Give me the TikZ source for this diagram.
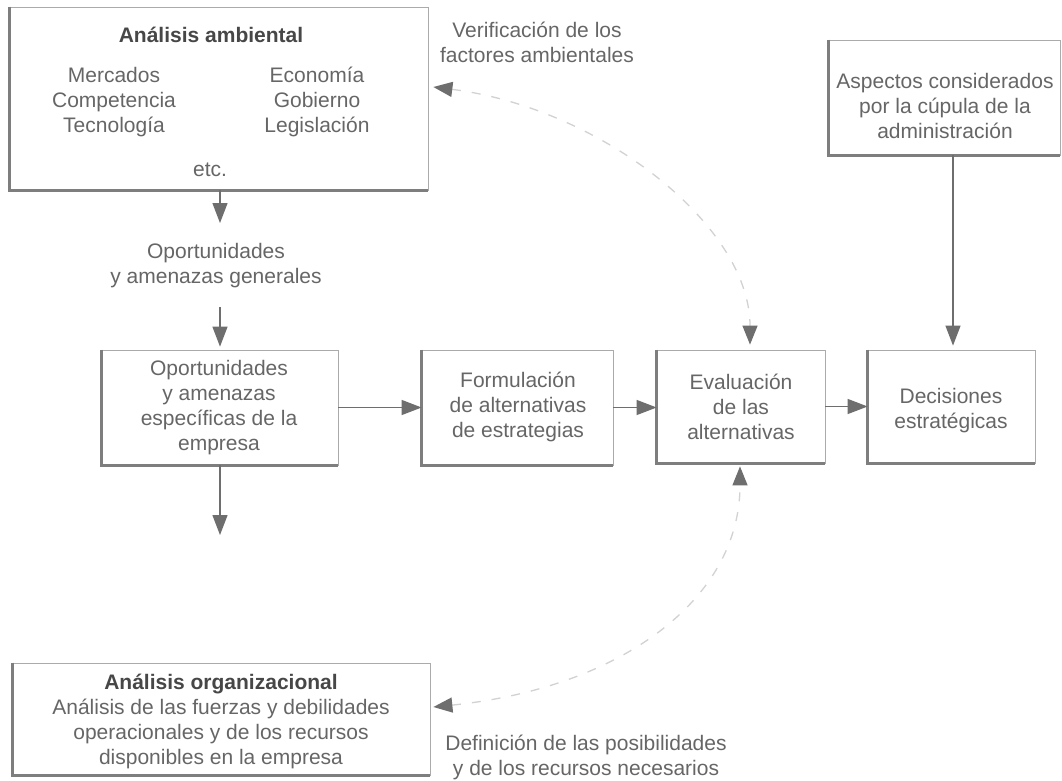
\documentclass[tikz,border=0pt]{standalone}
\usepackage{fontspec}
\setmainfont{Liberation Sans}
\usetikzlibrary{arrows.meta,calc}

\definecolor{inkgray}{HTML}{666666}
\definecolor{titlegray}{HTML}{474747}
\definecolor{framegray}{HTML}{ABABAB}
\definecolor{shadegray}{HTML}{7E7E7E}
\definecolor{flowgray}{HTML}{6E6E6E}
\definecolor{dashgray}{HTML}{D2D2D2}

\tikzset{
  txt/.style={font=\fontsize{21}{25}\selectfont, text=inkgray, align=center, inner sep=0pt},
  ttl/.style={txt, font=\fontsize{21}{25}\selectfont\bfseries, text=titlegray},
  panel/.style={draw=framegray, line width=0.8pt, fill=white, inner sep=0pt},
  shade/.style={draw=shadegray, line width=3.5pt},
  flow/.style={draw=flowgray, line width=1.3pt, -{Triangle[length=20pt,width=15pt]}},
  feedback/.style={draw=dashgray, line width=1.3pt, dash pattern=on 9pt off 11pt,
    {Triangle[length=19pt,width=15pt,color=flowgray]}-{Triangle[length=19pt,width=15pt,color=flowgray]}},
}

\begin{document}
\begin{tikzpicture}[x=1pt,y=-1pt]
\useasboundingbox[fill=white] (0,0) rectangle (1062,781);

% boxes
\node[panel, minimum width=418pt, minimum height=183pt] (amb)  at (219,98.5)   {};
\node[panel, minimum width=231pt, minimum height=115pt] (asp)  at (944.5,97.5) {};
\node[panel, minimum width=236pt, minimum height=115pt] (opo)  at (220,407.5)  {};
\node[panel, minimum width=191pt, minimum height=115pt] (form) at (517.5,407.5){};
\node[panel, minimum width=168pt, minimum height=113pt] (eva)  at (741,406.5)  {};
\node[panel, minimum width=167pt, minimum height=113pt] (dec)  at (951.5,406.5){};
\node[panel, minimum width=417pt, minimum height=112pt] (org)  at (221.5,719)  {};

% heavy left and bottom edges
\foreach \b in {amb,asp,opo,form,eva,dec,org}
  \draw[shade] (\b.north west) -- (\b.south west) -- (\b.south east);

% texts inside the boxes
\node[ttl] (ambttl) at (211,35) {Análisis ambiental};
\node[txt] (ambleft) at (114,102) {Mercados\\Competencia\\Tecnología};
\node[txt] (ambright) at (317,102) {Economía\\Gobierno\\Legislación};
\node[txt] (ambetc) at (210,170) {etc.};
\node[txt] (asptxt) at (945,106) {Aspectos considerados\\por la cúpula de la\\administración};
\node[txt] (opotxt) at (219,408) {Oportunidades\\y amenazas\\específicas de la\\empresa};
\node[txt] (formtxt) at (518,407) {Formulación\\de alternativas\\de estrategias};
\node[txt] (evatxt) at (741,407) {Evaluación\\de las\\alternativas};
\node[txt] (dectxt) at (951,411) {Decisiones\\estratégicas};
\node[txt] (orgtxt) at (221,721) {\textcolor{titlegray}{\bfseries Análisis organizacional}\\Análisis de las fuerzas y debilidades\\operacionales y de los recursos\\disponibles en la empresa};

% free labels
\node[txt] (oag) at (216,266) {Oportunidades\\y amenazas generales};
\node[txt] (verif) at (537,42) {Verificación de los\\factores ambientales};
\node[txt] (defin) at (586,757) {Definición de las posibilidades\\y de los recursos necesarios};

% connector ends around the free label and below the opportunities box
\coordinate (oagtop) at (220,223);
\coordinate (oagbot) at (220,307);
\coordinate (opoout) at (220,535);

% main flow
\draw[flow] (amb.south -| oagtop) -- (oagtop);
\draw[flow] (oagbot) -- ($(oagbot |- opo.north)+(0,-3)$);
\draw[flow] (opo.south) -- (opoout);
\draw[flow] (opo.east) -- (form.west);
\draw[flow] (form.east) -- (form.east -| eva.west);
\draw[flow] (eva.east) -- (eva.east -| dec.west);
\draw[flow] (asp.south -| 953,0) -- ($(953,0 |- dec.north)+(0,-4)$);

% feedback loops
\draw[feedback] ($(amb.east)+(5,-11.5)$) .. controls (600,108) and (750,225) .. ($(eva.north)+(9,-5)$);
\draw[feedback] ($(org.east)+(3,-12)$) .. controls (620,688) and (740,600) .. ($(eva.south)+(-1,3)$);
\end{tikzpicture}
\end{document}
